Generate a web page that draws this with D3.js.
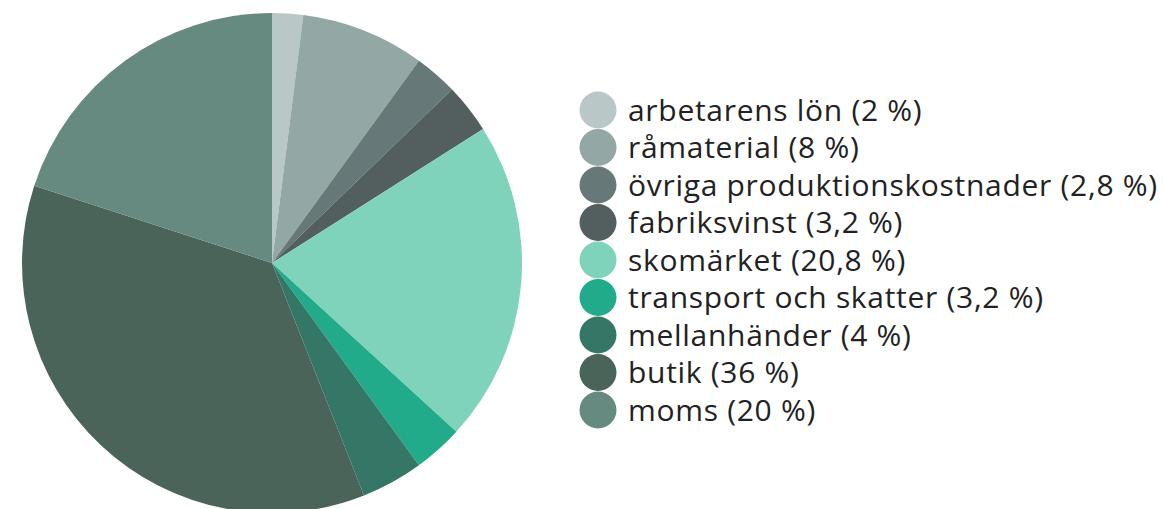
<!DOCTYPE html>
<html>
<head>
<meta charset="utf-8">
<script src="https://cdn.jsdelivr.net/npm/d3@7"></script>
<style>
  body { margin: 0; background: #fff; }
  svg { display: block; }
</style>
</head>
<body>
<div id="chart"></div>
<script>
// data
var labels = ["arbetarens lön", "råmaterial", "övriga produktionskostnader", "fabriksvinst",
              "skomärket", "transport och skatter", "mellanhänder", "butik", "moms"];
var values = [2, 8, 2.8, 3.2, 20.8, 3.2, 4, 36, 20];
var colors = ["#b9c7c6", "#93a7a5", "#667878", "#535e5e", "#80d3bb",
              "#22ab8a", "#357766", "#4a6459", "#678a80"];

var width = 1163, height = 509;
var cx = 272, cy = 263, radius = 250;

var svg = d3.select("#chart").append("svg")
    .attr("width", width)
    .attr("height", height);

var data = labels.map(function(d, i) { return {label: d, value: values[i], color: colors[i]}; });

var pie = d3.pie()
    .sort(null)
    .value(function(d) { return d.value; });

var arc = d3.arc()
    .innerRadius(0)
    .outerRadius(radius);

var g = svg.append("g").attr("transform", "translate(" + cx + "," + cy + ")");

g.selectAll("path")
  .data(pie(data))
  .enter().append("path")
    .attr("d", arc)
    .attr("fill", function(d) { return d.data.color; });

// legend
var fmt = function(v) { return String(v).replace(".", ","); };
var rowY = d3.scaleLinear().domain([0, 1]).range([110, 147.5]);

var legend = svg.append("g")
  .selectAll("g")
  .data(data)
  .enter().append("g")
    .attr("transform", function(d, i) { return "translate(598," + rowY(i) + ")"; });

legend.append("circle")
    .attr("r", 18.5)
    .attr("fill", function(d) { return d.color; });

legend.append("text")
    .attr("x", 30)
    .attr("dy", "0.35em")
    .attr("font-family", "'Open Sans', sans-serif")
    .attr("font-size", 30)
    .attr("letter-spacing", 0.7)
    .attr("fill", "#222")
    .text(function(d) { return d.label + " (" + fmt(d.value) + " %)"; });
</script>
</body>
</html>
